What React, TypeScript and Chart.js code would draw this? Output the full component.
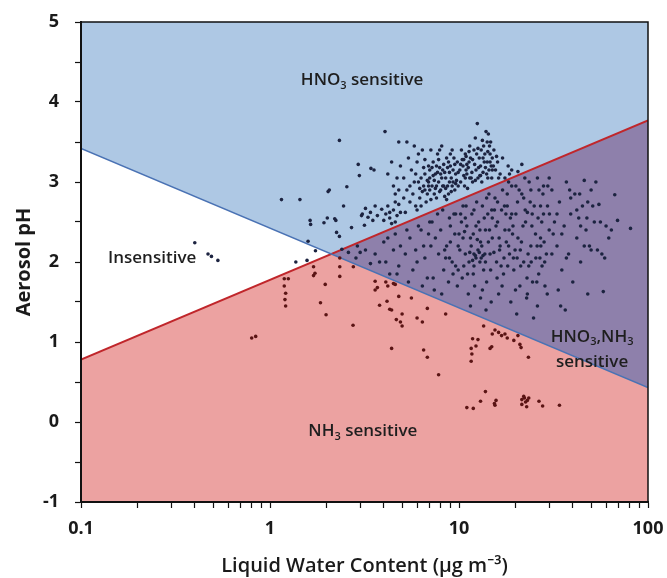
import { useEffect, useRef } from 'react';
import { Chart, registerables } from 'chart.js';

Chart.register(...registerables);

// ---------- axes ----------
const xRange = [0.1, 100];
const yRange = [-1, 5];
const xTickValues = [0.1, 0.2, 0.3, 0.4, 0.5, 0.6, 0.7, 0.8, 0.9, 1, 2, 3, 4, 5, 6, 7, 8, 9, 10, 20, 30, 40, 50, 60, 70, 80, 90, 100];
const xLabelValues = [0.1, 1, 10, 100];
const yStep = 0.5;

// ---------- sensitivity boundaries ----------
const hno3Boundary = [{ x: 0.1, y: 3.42 }, { x: 100, y: 0.43 }];
const nh3Boundary = [{ x: 0.1, y: 0.78 }, { x: 100, y: 3.77 }];

// ---------- observations: [LWC (µg m-3), pH] ----------
const lowLwcPoints: [number, number][] = [
  [0.40, 2.24], [0.47, 2.10], [0.49, 2.07], [0.53, 2.02], [0.80, 1.05], [0.84, 1.07],
  [1.15, 2.78], [1.44, 2.78],
  [1.19, 1.79], [1.25, 1.79], [1.19, 1.70], [1.21, 1.61], [1.20, 1.53], [1.21, 1.45],
  [1.37, 2.00], [1.57, 2.02], [1.70, 1.94], [1.70, 1.83], [1.73, 1.86], [1.74, 2.14],
  [1.96, 1.72], [1.85, 1.49], [1.98, 1.34], [2.34, 2.05], [2.34, 1.94], [2.34, 1.82], [2.76, 1.94], [2.75, 1.21],
  [1.63, 2.52], [1.64, 2.47], [1.59, 2.26], [2.01, 2.55], [2.03, 2.88], [2.06, 2.90], [2.23, 2.52], [2.33, 3.52],
  [2.45, 2.70], [2.55, 2.94], [2.25, 2.37], [2.33, 2.32], [2.70, 2.43], [2.93, 3.22], [2.97, 3.08], [3.08, 2.60],
  [3.16, 2.46], [3.42, 3.17], [3.55, 3.15], [3.20, 2.67], [3.40, 2.62], [3.30, 2.56], [3.50, 2.52], [3.60, 2.70],
  [3.05, 2.58], [1.93, 2.49], [2.20, 2.54], [3.70, 2.58], [3.90, 2.66],
  [2.40, 2.16], [2.60, 2.12], [2.85, 2.05], [2.90, 2.20], [3.20, 2.15], [3.60, 2.10], [3.00, 2.12], [3.80, 2.00], [3.40, 1.98],
  [3.60, 1.76], [3.70, 1.68], [3.60, 1.65], [3.80, 1.46],
];

const midLwcPoints: [number, number][] = [
  [4.06, 3.63], [4.80, 3.50], [5.30, 3.50], [4.10, 2.60], [4.30, 2.55], [4.50, 2.65], [4.70, 2.58], [4.90, 2.62],
  [4.20, 2.70], [4.40, 2.48], [4.60, 2.75], [4.00, 2.52], [4.80, 2.90], [4.50, 2.95], [4.20, 3.10], [4.70, 3.05],
  [4.90, 3.20], [4.40, 3.25], [4.60, 2.85], [4.30, 2.62], [4.80, 2.72], [5.10, 2.80], [4.60, 2.50],
  [4.20, 2.30], [4.50, 2.15], [4.10, 2.00], [4.80, 1.95], [4.30, 1.85], [4.60, 2.35], [4.90, 2.20], [4.00, 2.25], [4.70, 1.85],
  [4.10, 1.75], [4.20, 1.70], [4.50, 1.73], [4.60, 1.72], [4.16, 1.51], [4.30, 1.41], [4.40, 1.40], [4.80, 1.57],
  [4.40, 0.92], [4.66, 1.28], [4.90, 1.25], [5.00, 1.20], [5.00, 1.35],
  [5.20, 2.62], [5.50, 2.75], [5.30, 2.90], [5.80, 3.00], [5.60, 3.15], [6.00, 3.25], [6.30, 3.05], [6.50, 2.95],
  [6.20, 2.80], [6.80, 2.85], [6.60, 3.10], [6.90, 3.00], [5.90, 2.70], [6.10, 3.35], [6.40, 3.40], [5.40, 3.30],
  [5.70, 2.85], [6.70, 2.75], [7.00, 2.90], [6.00, 2.65], [5.10, 3.05], [6.60, 3.28], [5.80, 3.45], [6.90, 3.20],
  [5.50, 2.95], [5.90, 3.10], [6.30, 2.70], [6.60, 2.90], [6.10, 3.00],
  [5.20, 2.10], [5.50, 2.30], [5.70, 1.90], [6.00, 2.00], [6.30, 2.40], [6.50, 2.20], [6.80, 1.80], [5.40, 1.75],
  [6.10, 2.45], [6.60, 2.05], [5.90, 2.15], [6.90, 2.35], [5.30, 2.40], [6.40, 1.70], [7.00, 2.50],
  [6.40, 1.25], [6.50, 0.90], [6.80, 0.81], [6.80, 1.42], [5.60, 1.55], [6.00, 1.30],
  [7.20, 2.95], [7.50, 3.10], [7.30, 3.25], [7.80, 3.00], [8.00, 2.90], [8.20, 3.15], [8.50, 3.05], [8.80, 2.85],
  [9.00, 3.20], [9.30, 3.00], [9.60, 3.10], [7.60, 2.80], [8.40, 2.82], [7.10, 3.40], [7.70, 3.35], [8.60, 3.30],
  [9.20, 3.40], [9.80, 3.25], [7.40, 2.85], [8.10, 3.45], [9.50, 2.90], [7.90, 3.18], [8.90, 3.12], [9.90, 2.95],
  [7.00, 3.05], [8.30, 2.95], [9.10, 3.05], [7.60, 3.20], [8.70, 2.95], [9.40, 3.30],
  [6.20, 2.92], [6.50, 3.18], [6.80, 3.02], [7.10, 2.78], [7.30, 3.08], [7.50, 2.92], [7.70, 3.12], [7.90, 2.88],
  [8.10, 3.05], [8.30, 3.22], [8.50, 2.92], [8.70, 3.18], [8.90, 3.00], [9.10, 2.88], [9.30, 3.15], [9.50, 3.22],
  [9.70, 3.02], [6.40, 2.88], [7.00, 3.15], [7.80, 3.28], [8.60, 2.78], [9.90, 3.12], [6.90, 2.95], [8.00, 3.10],
  [7.20, 3.18], [7.40, 3.02], [7.60, 2.95], [8.20, 2.95], [8.40, 3.12], [8.80, 3.25], [9.20, 2.95], [9.60, 2.98],
  [7.90, 3.40], [9.00, 3.35],
  [7.20, 2.50], [7.50, 2.30], [7.80, 2.10], [8.00, 2.40], [8.30, 1.90], [8.60, 2.20], [8.90, 2.55], [9.20, 2.00],
  [9.50, 2.35], [9.80, 1.70], [7.30, 1.80], [8.10, 1.60], [8.80, 1.75], [9.60, 2.60], [7.70, 2.60], [9.00, 2.45],
  [8.40, 2.15], [7.10, 2.20], [9.30, 1.85], [8.20, 2.65], [9.90, 2.20], [7.40, 1.65], [9.40, 2.60], [8.90, 2.05], [9.90, 1.90],
  [7.80, 0.59], [8.50, 1.35],
];

const highLwcPoints: [number, number][] = [
  [10.20, 3.00], [10.50, 3.20], [10.80, 3.35], [11.00, 3.10], [11.30, 3.25], [11.60, 3.05], [12.00, 3.40], [12.50, 3.73],
  [12.30, 3.15], [12.80, 3.30], [13.20, 3.00], [13.50, 3.45], [13.90, 3.63], [14.30, 3.60], [14.10, 3.50], [14.60, 3.35],
  [14.80, 3.20], [13.00, 3.20], [11.80, 3.00], [10.70, 2.95], [11.40, 3.45], [12.60, 3.05], [14.00, 3.10], [14.50, 3.45],
  [15.00, 3.30], [10.30, 3.40], [11.10, 2.92], [13.60, 3.25], [12.20, 3.55], [14.90, 3.05], [15.30, 3.40], [15.60, 3.15],
  [16.00, 3.25], [16.50, 3.10], [17.00, 3.30], [17.50, 3.05], [18.20, 3.20], [19.00, 3.15], [14.20, 3.38], [13.30, 3.52],
  [10.90, 3.15], [20.50, 3.13], [21.50, 3.22], [18.50, 3.10],
  [10.10, 3.15], [10.40, 3.28], [10.60, 3.08], [10.90, 3.32], [11.20, 3.18], [11.50, 3.30], [11.70, 3.12], [12.10, 3.22],
  [12.40, 3.35], [12.70, 3.18], [13.10, 3.40], [13.40, 3.12], [13.70, 3.35], [14.10, 3.25], [14.40, 3.15], [14.70, 3.50],
  [15.20, 3.20], [10.80, 3.05], [12.90, 3.08], [11.30, 3.38],
  [10.20, 3.22], [10.60, 3.28], [11.00, 3.22], [11.40, 3.05], [11.80, 3.28], [12.20, 3.02], [12.60, 3.42], [13.00, 3.08],
  [13.40, 3.30], [13.80, 3.18], [14.20, 3.05], [14.60, 3.25], [15.00, 3.15], [15.80, 3.32], [16.20, 3.05],
  [10.20, 2.60], [10.50, 2.30], [10.80, 2.10], [11.00, 2.45], [11.30, 2.00], [11.60, 2.20], [12.00, 2.10], [12.30, 2.05],
  [12.60, 2.15], [12.90, 2.00], [13.20, 2.20], [13.50, 1.90], [13.80, 2.40], [14.20, 2.60], [14.60, 2.10], [15.00, 2.30],
  [10.40, 1.80], [11.20, 1.60], [12.10, 1.70], [13.00, 1.55], [14.00, 1.75], [14.80, 1.50], [10.90, 2.70], [11.70, 2.60],
  [12.40, 2.75], [13.30, 2.70], [14.40, 2.85], [10.60, 1.95], [11.90, 2.35], [12.70, 2.50], [13.60, 2.55], [14.90, 2.65],
  [11.50, 1.45], [13.90, 1.40], [12.20, 2.08], [12.80, 2.12], [11.80, 2.02], [13.10, 2.05],
  [8.50, 2.05], [9.00, 2.25], [9.60, 1.95], [10.10, 2.15], [10.70, 2.38], [11.40, 2.12], [12.50, 2.28], [13.40, 2.08],
  [14.30, 2.25], [15.30, 2.12], [16.30, 2.30], [17.30, 2.05], [18.30, 2.20], [19.30, 2.45], [11.10, 1.85], [12.90, 2.40],
  [14.70, 1.90], [16.70, 1.95], [18.70, 2.55], [20.30, 2.05], [10.30, 2.50], [13.70, 2.10], [15.70, 2.45], [17.70, 2.60],
  [12.00, 1.95], [10.50, 2.70], [12.00, 2.65], [14.00, 2.80], [16.00, 2.75], [18.00, 2.85], [20.00, 2.95], [22.00, 2.80],
  [24.00, 2.90], [26.00, 3.05], [28.00, 2.95], [30.00, 3.05], [15.00, 2.55], [19.00, 2.60], [23.00, 2.62], [27.00, 2.70],
  [10.00, 2.35], [10.80, 2.55], [11.50, 2.30], [12.30, 2.45], [13.00, 2.25], [13.80, 2.00], [14.50, 2.40], [15.40, 2.65],
  [16.40, 2.15], [17.40, 2.70], [18.40, 2.40], [19.40, 2.05], [20.40, 2.75], [21.40, 2.25], [22.40, 2.65], [23.40, 1.95],
  [24.40, 2.60], [25.40, 2.35], [26.40, 1.85], [27.40, 2.50], [28.40, 2.00], [29.40, 2.70], [16.90, 1.70], [19.90, 1.65],
  [22.90, 1.80], [25.90, 2.20], [11.90, 1.85], [13.30, 1.65], [15.90, 1.80], [18.10, 1.95], [21.10, 2.15], [24.10, 2.00],
  [27.10, 2.20], [30.10, 2.60],
  [15.50, 2.80], [16.00, 2.50], [16.50, 2.20], [17.00, 2.90], [17.50, 2.40], [18.00, 2.70], [18.50, 2.10], [19.00, 2.95],
  [19.50, 1.90], [20.00, 2.60], [20.50, 2.30], [21.00, 1.70], [21.50, 2.85], [22.00, 2.00], [22.50, 2.50], [23.00, 1.60],
  [23.50, 3.00], [24.00, 2.20], [24.50, 1.75], [25.00, 2.70], [25.50, 2.05], [26.00, 1.45], [26.50, 2.90], [27.00, 2.30],
  [27.50, 1.95], [28.00, 2.60], [28.50, 1.70], [29.00, 2.10], [29.50, 2.95], [30.00, 2.40], [16.20, 1.60], [18.80, 1.50],
  [20.20, 1.35], [22.80, 1.55], [24.80, 1.30], [17.20, 1.85], [19.20, 2.35], [21.80, 2.45], [23.80, 2.75], [26.20, 2.55],
  [28.20, 2.25], [15.80, 2.00], [20.80, 2.90], [17.80, 2.25], [23.20, 2.10], [25.80, 1.75], [27.80, 2.85], [22.30, 3.05],
  [18.30, 3.00], [21.20, 1.95], [24.30, 2.45], [26.80, 2.05], [29.30, 1.60], [16.80, 2.65], [19.80, 2.15],
  [31, 2.90], [32, 2.50], [33, 2.20], [34, 2.75], [35, 1.90], [36, 2.45], [37, 3.00], [38, 2.10], [39, 2.60], [40, 1.75],
  [41, 2.85], [42, 2.30], [43, 2.55], [44, 2.00], [45, 2.70], [46, 3.02], [47, 2.40], [48, 1.60], [50, 2.15], [52, 2.50],
  [53, 3.00], [55, 2.72], [57, 2.10], [58, 1.63], [60, 2.45], [66.7, 2.84], [69, 2.52], [80.8, 2.42], [33.5, 1.65],
  [38.5, 2.90], [43.5, 2.85], [47.5, 2.55], [51, 2.70], [36.5, 1.40], [31.5, 2.35], [34.5, 1.45], [49, 2.20], [54, 2.15], [62, 2.30],
  [31, 2.10], [33, 2.60], [35, 2.35], [37, 2.05], [39, 2.80], [42, 2.65], [44, 2.45], [46, 2.20], [48, 2.75], [50, 2.90],
  [56, 2.50], [59, 2.05], [64, 2.40],
  [11.80, 1.04], [11.60, 0.92], [11.70, 0.85], [11.60, 0.76], [12.30, 0.95], [12.60, 1.03], [11.90, 0.17], [11.00, 0.18],
  [13.80, 0.38], [13.00, 0.26], [15.40, 0.23], [15.50, 0.21], [15.70, 0.27], [14.90, 0.94], [14.60, 0.92], [15.00, 1.10],
  [15.50, 1.15], [16.20, 1.12], [16.80, 1.08], [17.50, 1.10], [18.00, 1.05], [19.50, 1.02], [20.50, 1.08], [21.00, 0.97],
  [21.30, 0.93], [13.50, 1.20], [23.30, 0.81],
  [21.50, 0.28], [22.00, 0.32], [22.50, 0.25], [21.50, 0.22], [23.40, 0.30], [22.80, 0.19], [22.20, 0.30], [23.00, 0.27],
  [26.50, 0.26], [27.70, 0.20], [34.00, 0.21],
];

// ---------- region labels ----------
type Part = [string, boolean];
const regionLabels: { parts: Part[]; x: number; y: number }[] = [
  { parts: [['HNO', false], ['3', true], [' sensitive', false]], x: 3.07, y: 4.27 },
  { parts: [['Insensitive', false]], x: 0.238, y: 2.05 },
  { parts: [['NH', false], ['3', true], [' sensitive', false]], x: 3.1, y: -0.12 },
  { parts: [['HNO', false], ['3', true], [',NH', false], ['3', true]], x: 50.6, y: 1.06 },
  { parts: [['sensitive', false]], x: 50.6, y: 0.75 },
];

// ---------- helpers ----------
const boundaryAt = (line: { x: number; y: number }[], x: number) => {
  const l0 = Math.log10(line[0].x);
  const l1 = Math.log10(line[1].x);
  const t = (Math.log10(x) - l0) / (l1 - l0);
  return line[0].y + (line[1].y - line[0].y) * t;
};

const crossing = (() => {
  const d0 = hno3Boundary[0].y - nh3Boundary[0].y;
  const d1 = hno3Boundary[1].y - nh3Boundary[1].y;
  const t = d0 / (d0 - d1);
  const l0 = Math.log10(hno3Boundary[0].x);
  const l1 = Math.log10(hno3Boundary[1].x);
  const x = Math.pow(10, l0 + (l1 - l0) * t);
  return { x, y: boundaryAt(hno3Boundary, x) };
})();

const FONT = '"Open Sans", "Noto Sans", sans-serif';

const regionLabelPlugin = {
  id: 'regionLabels',
  afterDatasetsDraw(chart: any) {
    const { ctx, scales } = chart;
    const main = `600 17px ${FONT}`;
    const sub = `600 11px ${FONT}`;
    ctx.save();
    ctx.fillStyle = '#1e1e1e';
    ctx.textBaseline = 'middle';
    ctx.textAlign = 'left';
    for (const lab of regionLabels) {
      const px = scales.x.getPixelForValue(lab.x);
      const py = scales.y.getPixelForValue(lab.y);
      let total = 0;
      for (const [t, s] of lab.parts) {
        ctx.font = s ? sub : main;
        total += ctx.measureText(t).width;
      }
      let cx = px - total / 2;
      for (const [t, s] of lab.parts) {
        ctx.font = s ? sub : main;
        ctx.fillText(t, cx, s ? py + 5 : py);
        cx += ctx.measureText(t).width;
      }
    }
    ctx.restore();
  },
};

const framePlugin = {
  id: 'frame',
  afterDraw(chart: any) {
    const { ctx, chartArea: a } = chart;
    ctx.save();
    ctx.strokeStyle = '#111';
    ctx.lineWidth = 1.5;
    ctx.beginPath();
    ctx.moveTo(a.left, a.top);
    ctx.lineTo(a.right, a.top);
    ctx.lineTo(a.right, a.bottom);
    ctx.stroke();
    ctx.restore();
  },
};

const W = 667;
const H = 578;

export default function App() {
  const ref = useRef<HTMLCanvasElement | null>(null);

  useEffect(() => {
    if (!ref.current) return;
    const toXY = (arr: [number, number][]) => arr.map(([x, y]) => ({ x, y }));
    const points = [...toXY(lowLwcPoints), ...toXY(midLwcPoints), ...toXY(highLwcPoints)];
    const navy = '#1c2340';
    const maroon = '#5a1414';
    const pointColor = (c: any) => {
      const r = c.raw;
      if (!r) return navy;
      const inNh3 = r.y < boundaryAt(hno3Boundary, r.x) && r.y < boundaryAt(nh3Boundary, r.x);
      return inNh3 ? maroon : navy;
    };
    const area = { pointRadius: 0, borderWidth: 0, borderColor: 'transparent', showLine: true, tension: 0 };

    const chart = new Chart(ref.current, {
      type: 'line',
      data: {
        datasets: [
          {
            data: points,
            showLine: false,
            pointRadius: 1.8,
            pointBorderWidth: 0,
            pointBackgroundColor: pointColor,
            pointBorderColor: pointColor,
            fill: false,
          },
          {
            data: hno3Boundary,
            borderColor: '#4a72b4',
            borderWidth: 1.6,
            pointRadius: 0,
            fill: false,
          },
          {
            data: nh3Boundary,
            borderColor: '#c0262b',
            borderWidth: 2,
            pointRadius: 0,
            fill: false,
          },
          {
            ...area,
            data: [crossing, nh3Boundary[1]],
            backgroundColor: '#8e80ab',
            fill: { target: 4 },
          },
          {
            ...area,
            data: [crossing, hno3Boundary[1]],
            fill: false,
          },
          {
            ...area,
            data: hno3Boundary,
            backgroundColor: '#aec8e4',
            fill: 'end',
          },
          {
            ...area,
            data: nh3Boundary,
            backgroundColor: '#eca2a1',
            fill: 'start',
          },
        ] as any,
      },
      options: {
        responsive: false,
        animation: false,
        events: [],
        layout: { padding: { top: 22, right: 19, left: 0, bottom: 0 } },
        plugins: {
          legend: { display: false },
          tooltip: { enabled: false },
        },
        scales: {
          x: {
            type: 'logarithmic',
            min: xRange[0],
            max: xRange[1],
            afterBuildTicks: (s: any) => {
              s.ticks = xTickValues.map((v) => ({ value: v }));
            },
            afterFit: (s: any) => {
              s.height = 76;
              s.paddingLeft = 0;
              s.paddingRight = 0;
            },
            ticks: {
              autoSkip: false,
              maxRotation: 0,
              padding: 10,
              color: '#1a1a1a',
              font: { family: FONT, size: 18, weight: 'bold' },
              callback: (v: any) => (xLabelValues.includes(Number(v)) ? String(v) : ''),
            },
            grid: { drawOnChartArea: false, tickLength: 6, tickColor: '#111', tickWidth: 1.2 },
            border: { display: true, color: '#111', width: 2, z: 1 },
            title: {
              display: true,
              text: 'Liquid Water Content (µg m⁻³)',
              color: '#1a1a1a',
              font: { family: FONT, size: 20, weight: '600' },
              padding: { top: 0, bottom: 0 },
            },
          },
          y: {
            type: 'linear',
            min: yRange[0],
            max: yRange[1],
            afterFit: (s: any) => {
              s.width = 81;
              s.paddingTop = 0;
              s.paddingBottom = 0;
            },
            ticks: {
              stepSize: yStep,
              autoSkip: false,
              padding: 16,
              color: '#1a1a1a',
              font: { family: FONT, size: 18, weight: 'bold' },
              callback: (v: any) => (Number.isInteger(Number(v)) ? String(v) : ''),
            },
            grid: { drawOnChartArea: false, tickLength: 6, tickColor: '#111', tickWidth: 1.2 },
            border: { display: true, color: '#111', width: 2, z: 1 },
            title: {
              display: true,
              text: 'Aerosol pH',
              color: '#1a1a1a',
              font: { family: FONT, size: 20, weight: 'bold' },
              padding: { top: 12, bottom: 0 },
            },
          },
        },
      } as any,
      plugins: [regionLabelPlugin, framePlugin],
    });
    return () => chart.destroy();
  }, []);

  return (
    <div style={{ width: W, height: H }}>
      <style>{'html, body { margin: 0; padding: 0; overflow: hidden; }'}</style>
      <canvas ref={ref} width={W} height={H} style={{ display: 'block' }} />
    </div>
  );
}
